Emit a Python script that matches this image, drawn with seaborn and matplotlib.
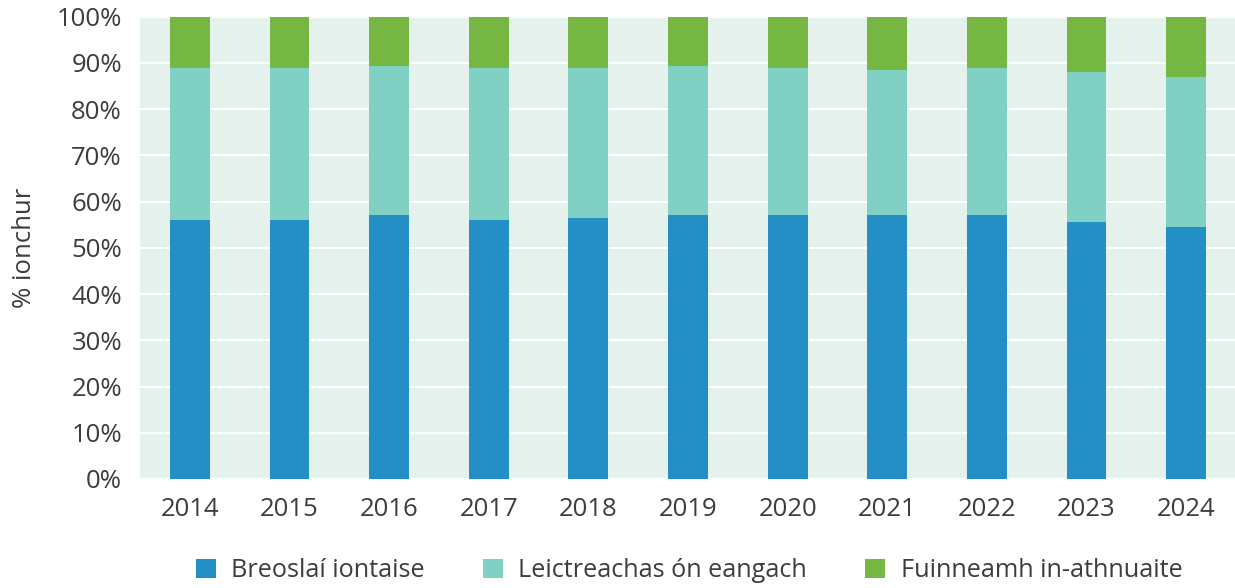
import pandas as pd
import seaborn as sns
import matplotlib.pyplot as plt
from matplotlib.patches import Patch

years = ['2014', '2015', '2016', '2017', '2018', '2019', '2020', '2021', '2022', '2023', '2024']
fossil = [56.1, 56.1, 57.1, 56.1, 56.5, 57.1, 57.1, 57.1, 57.1, 55.6, 54.5]
electricity = [32.9, 32.9, 32.3, 32.9, 32.5, 32.3, 31.9, 31.4, 31.9, 32.5, 32.5]
renewable = [11.0, 11.0, 10.6, 11.0, 11.0, 10.6, 11.0, 11.5, 11.0, 11.9, 13.0]

labels = ['Breoslaí iontaise', 'Leictreachas ón eangach', 'Fuinneamh in-athnuaite']
colors = ['#248fc4', '#80d1c3', '#76b643']
text_color = '#3d3d3d'

df = pd.DataFrame({'year': years, 'fossil': fossil,
                   'electricity': electricity, 'renewable': renewable})
# cumulative tops, drawn back to front so they stack
df['top_fossil'] = df['fossil']
df['top_elec'] = df['fossil'] + df['electricity']
df['top_all'] = df['top_elec'] + df['renewable']

sns.set_style('whitegrid')
plt.rcParams['font.family'] = ['Open Sans', 'DejaVu Sans']
plt.rcParams['text.color'] = text_color
plt.rcParams['xtick.color'] = text_color
plt.rcParams['ytick.color'] = text_color
plt.rcParams['axes.labelcolor'] = text_color

fig = plt.figure(figsize=(12.35, 5.88), dpi=100)
ax = fig.add_axes([0.1134, 0.1854, 0.8874, 0.7862])
ax.set_facecolor('#e4f1ec')

for col, color in zip(['top_all', 'top_elec', 'top_fossil'], colors[::-1]):
    sns.barplot(data=df, x='year', y=col, color=color, width=0.4,
                saturation=1, linewidth=0, edgecolor='none', ax=ax, zorder=3)

ax.set_ylim(0, 100)
ax.set_xlim(-0.5, 10.5)
ax.set_yticks(range(0, 101, 10))
ax.set_yticklabels([f'{v}%' for v in range(0, 101, 10)])
ax.grid(axis='y', color='white', linewidth=1.5, zorder=1)
ax.grid(axis='x', visible=False)
for s in ax.spines.values():
    s.set_visible(False)
ax.tick_params(axis='both', length=0, labelsize=18.5)
ax.tick_params(axis='x', pad=13)
ax.tick_params(axis='y', pad=13)
ax.set_xlabel('')
ax.set_ylabel('% ionchur', fontsize=18.5, labelpad=14)

handles = [Patch(facecolor=c, edgecolor='none') for c in colors]
fig.legend(handles, labels, loc='center', bbox_to_anchor=(0.558, 0.029),
           ncol=3, frameon=False, fontsize=18.2, handlelength=0.8,
           handleheight=0.8, handletextpad=0.6, columnspacing=2.3)

fig.savefig('out.png', dpi=100)
